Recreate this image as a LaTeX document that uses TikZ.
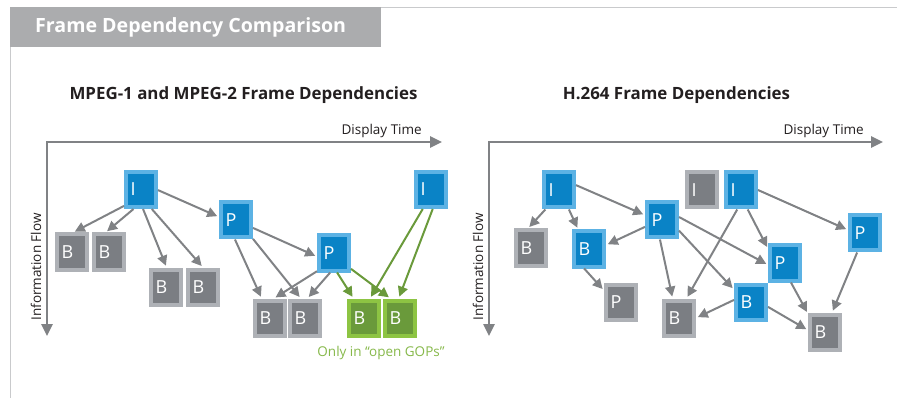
\documentclass[tikz,border=0pt]{standalone}
\usepackage{fontspec}
\setmainfont{Open Sans}
\usetikzlibrary{arrows.meta}

\definecolor{hdrgray}{HTML}{ABACAE}
\definecolor{framegray}{HTML}{C9CACC}
\definecolor{linegray}{HTML}{808285}
\definecolor{blueout}{HTML}{5CB2E4}
\definecolor{bluein}{HTML}{0A83C6}
\definecolor{grayout}{HTML}{AEB1B6}
\definecolor{grayin}{HTML}{7B7E83}
\definecolor{greenout}{HTML}{8DC443}
\definecolor{greenin}{HTML}{6A9A3B}
\definecolor{greentext}{HTML}{86B84A}
\definecolor{titleblack}{HTML}{231F20}

\tikzset{
  frm/.style={minimum width=30pt, minimum height=35pt, line width=4pt,
    text=white, font=\fontsize{18}{18}\selectfont, text width=21pt,
    align=left, inner sep=0pt},
  bfrm/.style={frm, draw=blueout, fill=bluein},
  gfrm/.style={frm, draw=grayout, fill=grayin},
  grfrm/.style={frm, draw=greenout, fill=greenin},
  dep/.style={draw=linegray, line width=2pt,
    -{Triangle[length=10pt,width=10pt]}, shorten >=2pt},
  gdep/.style={dep, draw=greenin, -{Triangle[length=10pt,width=10pt,fill=greenin]}},
  axis/.style={draw=linegray, line width=2.5pt, line join=miter,
    {Triangle[length=12pt,width=11pt]}-{Triangle[length=12pt,width=11pt]}},
  ttl/.style={font=\bfseries\fontsize{16.9}{17}\selectfont, text=titleblack},
  axlbl/.style={font=\fontsize{13.5}{13.5}\selectfont, text=titleblack, inner sep=0pt},
}

\begin{document}
\begin{tikzpicture}[x=1pt,y=-1pt]
\useasboundingbox (0,0) rectangle (897,398);

% header band and frame lines
\fill[hdrgray] (10,7) rectangle (381,47);
\draw[framegray, line width=1pt] (381,7.5) -- (897,7.5);
\draw[framegray, line width=1pt] (10.5,47) -- (10.5,398);
\node[anchor=west, text=white, inner sep=0pt,
  font=\bfseries\fontsize{19.6}{20}\selectfont] (hdr) at (35,27) {Frame Dependency Comparison};

% titles
\node[ttl] (tleft) at (243.5,95) {MPEG-1 and MPEG-2 Frame Dependencies};
\node[ttl] (tright) at (676.5,95) {H.264 Frame Dependencies};

% left axes
\coordinate (lo) at (47,142);
\coordinate (lx) at (442,142);
\coordinate (ly) at (47,336);
\draw[axis] (ly) -- (lo) -- (lx);
\node[axlbl, anchor=east] (ldt) at (422,131) {Display Time};
\node[axlbl, rotate=90] (lif) at (36,267) {Information Flow};

% right axes
\coordinate (ro) at (489,142);
\coordinate (rx) at (883,142);
\coordinate (ry) at (489,336);
\draw[axis] (ry) -- (ro) -- (rx);
\node[axlbl, anchor=east] (rdt) at (864,131) {Display Time};
\node[axlbl, rotate=90] (rif) at (478,267) {Information Flow};

% MPEG-1/2 frames
\node[bfrm] (I1) at (141,189.5) {I};
\node[bfrm] (P1) at (236,220) {P};
\node[gfrm] (B1) at (72,252) {B};
\node[gfrm] (B2) at (109,252) {B};
\node[gfrm] (B3) at (166,287) {B};
\node[gfrm] (B4) at (203,287) {B};
\node[bfrm] (P2) at (334,253) {P};
\node[gfrm] (B5) at (270,318) {B};
\node[gfrm] (B6) at (305,318) {B};
\node[grfrm] (B7) at (364,318) {B};
\node[grfrm] (B8) at (400,318) {B};
\node[bfrm] (I2) at (431,189.5) {I};
\node[text=greentext, inner sep=0pt, font=\fontsize{13.5}{13.5}\selectfont]
  (gop) at (381,353) {Only in “open GOPs”};

% MPEG-1/2 dependencies
\draw[dep] (I1.224) -- (B1.87);
\draw[dep] (I1.-111) -- (B2.100);
\draw[dep] (I1.-84) -- (B3.88);
\draw[dep] (I1.-61) -- (B4.90);
\draw[dep] (I1.-2) -- (P1.170);
\draw[dep] (P1.-93) -- (B5.113);
\draw[dep] (P1.-48) -- (B6.102);
\draw[dep] (P1.-25) -- (P2.-168);
\draw[dep] (P2.-133) -- (B5.79);
\draw[dep] (P2.-101) -- (B6.83);
\draw[gdep] (P2.-81) -- (B7.118);
\draw[gdep] (P2.-43) -- (B8.116);
\draw[gdep] (I2.-113) -- (B7.73);
\draw[gdep] (I2.-85) -- (B8.94);

% H.264 frames
\node[bfrm] (hI) at (559,190) {I};
\node[gfrm] (hBa) at (531,248) {B};
\node[bfrm] (hBb) at (589,249) {B};
\node[bfrm] (hPa) at (662,220) {P};
\node[gfrm] (hPc) at (621,302) {P};
\node[gfrm] (hBc) at (679,318) {B};
\node[gfrm] (hIg) at (702,190) {I};
\node[bfrm] (hIb) at (741,190) {I};
\node[bfrm] (hPb) at (785,263) {P};
\node[bfrm] (hBd) at (751,302) {B};
\node[bfrm] (hPd) at (865,233) {P};
\node[gfrm] (hBe) at (825,332) {B};

% H.264 dependencies
\draw[dep] (hI.-125) -- (hBa.99);
\draw[dep] (hI.-63) -- (hBb.119);
\draw[dep] (hI.16) -- (hPa.164);
\draw[dep] (hPa.-158) -- (hBb.13);
\draw[dep] (hPa.-96) -- (hBc.108);
\draw[dep] (hPa.10) -- (hPb.-174);
\draw[dep] (hPa.-32) -- (hBd.144);
\draw[dep] (hBb.-104) -- (hPc.146);
\draw[dep] (hIb.-101) -- (hBc.69);
\draw[dep] (hIb.-71) -- (hPb.140);
\draw[dep] (hIb.0) -- (hPd.170);
\draw[dep] (hBd.173) -- (hBc.0);
\draw[dep] (hBd.-16) -- (hBe.174);
\draw[dep] (hPb.-73) -- (hBe.133);
\draw[dep] (hPd.-112) -- (hBe.70);
\end{tikzpicture}
\end{document}
